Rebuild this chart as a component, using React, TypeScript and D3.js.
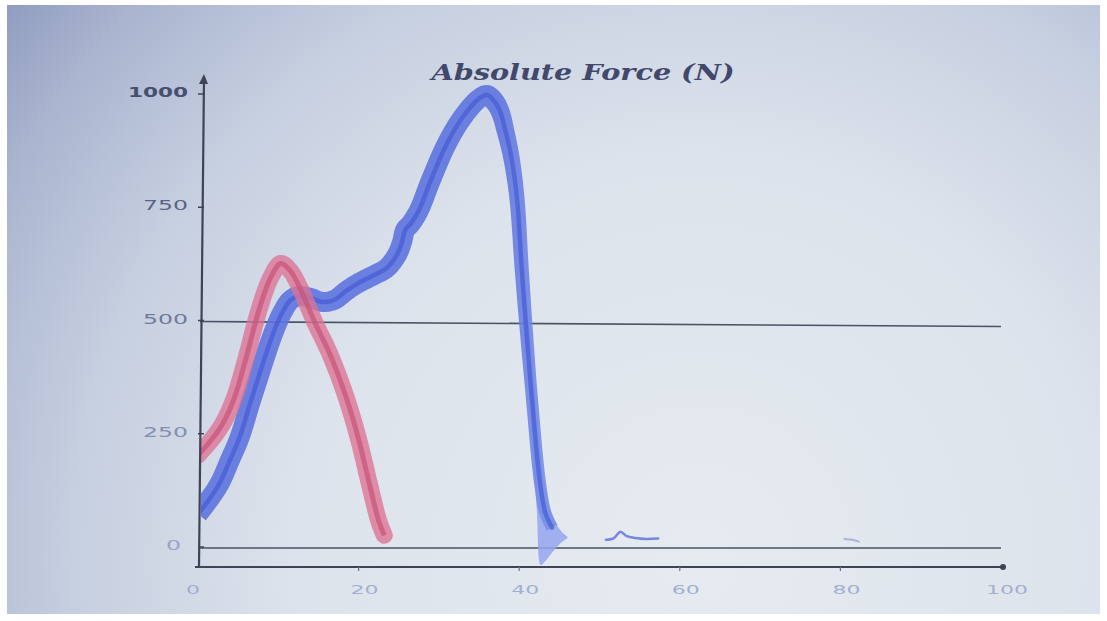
import React, { useEffect, useRef, useState } from "react";
import * as d3 from "d3";

// force curves (time index vs N)
const redX = [0, 1.5, 3, 4.5, 6, 7.5, 9, 10.3, 11.5, 12.8, 14.5, 16.5, 18.5, 20, 21.5, 22.5, 23.2];
const redY = [205, 235, 272, 330, 420, 520, 595, 628, 612, 570, 500, 425, 330, 240, 130, 60, 28];

// blue trial, rise, peak and the steep drop after release
const blueX = [0, 1.5, 2.7, 4, 5.2, 6.5, 7.5, 8.5, 9.5, 10.5, 11.5, 12.5, 14, 15.5, 17, 18.5, 20, 22, 23.5, 24.8,
  25.4, 25.8, 26.5, 27.5, 29, 31, 33, 35, 36, 37, 37.7, 38.3, 38.9, 39.4, 39.8, 40.3, 40.8, 41.6, 42.6, 43.3, 44.1];
const blueY = [75, 110, 143, 195, 245, 320, 375, 430, 480, 520, 547, 556, 552, 543, 548, 568, 585, 603, 618, 648,
  675, 702, 716, 745, 812, 893, 952, 992, 1000, 984, 960, 920, 874, 820, 757, 620, 500, 327, 143, 75, 45];

// widening spread at the end of the blue trial
const tailX = [39.8, 40.8, 41.6, 42.2, 42.7, 43.2, 44, 45, 46];
const tailHi = [800, 580, 420, 285, 200, 140, 80, 42, 25];
const tailLo = [720, 440, 250, 80, -38, -30, -12, 8, 22];

// small noise bumps after release
const blip1X = [50.8, 51.8, 52.6, 53.4, 54.5, 55.8, 57.3];
const blip1Y = [18, 22, 36, 26, 22, 20, 21];
const blip2X = [80.5, 81.5, 82.3];
const blip2Y = [20, 18, 14];

const xTicks = [0, 20, 40, 60, 80, 100];
const yTicks = [0, 250, 500, 750, 1000];
const refLines = [0, 500];

const W = 1107, H = 621;

const x = d3.scaleLinear().domain([0, 100]).range([198, 1001]);
const y = d3.scaleLinear().domain([0, 1000]).range([548, 95]);

const mk = (xs: number[], ys: number[], c: any = d3.curveCatmullRom.alpha(0.5)) =>
  d3.line<number>().x(d => x(d)).y((d, i) => y(ys[i])).curve(c)(xs) || "";

// half thickness of the blue band, narrowing along the drop
const halfWidth = (t: number) => (t < 37 ? 10 : t > 41.5 ? 6 : 10 - ((t - 37) / 4.5) * 4);

export default function App() {
  const meanRef = useRef<SVGPathElement>(null);
  const [band, setBand] = useState("");

  const redPath = mk(redX, redY);
  const bluePath = mk(blueX, blueY);
  const tailPath = d3.area<number>().x(d => x(d)).y0((d, i) => y(tailLo[i])).y1((d, i) => y(tailHi[i]))
    .curve(d3.curveCatmullRom.alpha(0.5))(tailX) || "";
  const blip1 = mk(blip1X, blip1Y, d3.curveCatmullRom);
  const blip2 = mk(blip2X, blip2Y, d3.curveCatmullRom);

  useEffect(() => {
    const p = meanRef.current;
    if (!p) return;
    const L = p.getTotalLength();
    const pts = d3.range(0, L, 1).concat([L]).map(l => p.getPointAtLength(l));
    const left: [number, number][] = [];
    const right: [number, number][] = [];
    pts.forEach((pt, i) => {
      const a = pts[Math.max(0, i - 2)], b = pts[Math.min(pts.length - 1, i + 2)];
      const dx = b.x - a.x, dy = b.y - a.y;
      const n = Math.hypot(dx, dy) || 1;
      const nx = -dy / n, ny = dx / n;
      const w = halfWidth(x.invert(pt.x));
      left.push([pt.x + nx * w, pt.y + ny * w]);
      right.push([pt.x - nx * w, pt.y - ny * w]);
    });
    setBand((d3.line()([...left, ...right.reverse()]) || "") + "Z");
  }, []);

  const yLabelColor = d3.scaleLinear<string>().domain([1000, 0]).range(["#474f6e", "#98a4c4"]);
  const x0 = x(0) + 2;

  return (
    <svg width={W} height={H} style={{ position: "fixed", left: 0, top: 0 }}>
      <defs>
        <radialGradient id="bg" cx="700" cy="560" r="900" gradientUnits="userSpaceOnUse">
          <stop offset="0" stopColor="#e6ebf0" />
          <stop offset="0.45" stopColor="#dde3ec" />
          <stop offset="0.7" stopColor="#c6cfe0" />
          <stop offset="0.88" stopColor="#a9b4cf" />
          <stop offset="1" stopColor="#8e9abd" />
        </radialGradient>
        <linearGradient id="blueBand" x1="500" x2="545" y1="0" y2="0" gradientUnits="userSpaceOnUse">
          <stop offset="0" stopColor="#5e74df" />
          <stop offset="1" stopColor="#7a90e6" />
        </linearGradient>
        <clipPath id="plot">
          <rect x={201} y={60} width={820} height={520} />
        </clipPath>
      </defs>
      <rect width={W} height={H} fill="#ffffff" />
      <rect x={7} y={5} width={W - 14} height={H - 12} fill="url(#bg)" />

      {/* title */}
      <text x={583} y={80} textAnchor="middle" fontFamily="'DejaVu Serif', serif" fontWeight="bold"
        fontStyle="italic" fontSize={22} fill="#41486c" textLength={303} lengthAdjust="spacingAndGlyphs">
        Absolute Force (N)
      </text>

      {/* reference lines */}
      {refLines.map(v => (
        <line key={v} x1={x0} x2={x(100)} y1={y(v)} y2={y(v) + (v === 500 ? 5 : 0)}
          stroke="#4a5266" strokeWidth={1.6} />
      ))}

      <g clipPath="url(#plot)">
        {/* blue trial */}
        <path d={tailPath} fill="#93a5ee" opacity={0.85} />
        <path d={band} fill="url(#blueBand)" opacity={0.9} />
        <path ref={meanRef} d={bluePath} fill="none" stroke="#4258d4" strokeWidth={4.5} strokeLinecap="round"
          strokeLinejoin="round" opacity={0.65} />
        <path d={blip1} fill="none" stroke="#7688de" strokeWidth={2.5} strokeLinecap="round" />
        <path d={blip2} fill="none" stroke="#aab3d8" strokeWidth={2} strokeLinecap="round" />

        {/* red trial */}
        <path d={redPath} fill="none" stroke="#dc7294" strokeWidth={17} strokeLinecap="round" strokeLinejoin="round" opacity={0.78} />
        <path d={redPath} fill="none" stroke="#c9557a" strokeWidth={5} strokeLinecap="butt" strokeLinejoin="round" opacity={0.75} />
      </g>

      {/* axes */}
      <line x1={199} x2={204} y1={567} y2={78} stroke="#3e4456" strokeWidth={2.2} />
      <path d="M199,84 L204,74 L208,84 Z" fill="#3e4456" />
      <line x1={195} x2={x(100) + 2} y1={567} y2={567} stroke="#3e4456" strokeWidth={2.2} />
      <circle cx={x(100) + 2} cy={567} r={3} fill="#3e4456" />

      {yTicks.map(v => (
        <g key={v}>
          <line x1={198} x2={204} y1={y(v) - 1} y2={y(v) - 1} stroke="#3e4456" strokeWidth={1.5} />
          <text x={v === 0 ? 181 : 188} y={y(v) - 2} textAnchor="end" dominantBaseline="middle" fontFamily="'DejaVu Sans', sans-serif"
            fontWeight={v === 1000 ? "bold" : "normal"} fontSize={14} fill={yLabelColor(v)}
            textLength={String(v).length * 15} lengthAdjust="spacingAndGlyphs">
            {v}
          </text>
        </g>
      ))}

      {xTicks.map(v => (
        <g key={v}>
          {v > 0 && v < 100 && <line x1={x(v)} x2={x(v)} y1={567} y2={571} stroke="#6a7290" strokeWidth={1.2} />}
          <text x={x(v) + (v === 0 ? -5 : 6)} y={594} textAnchor="middle" fontFamily="'DejaVu Sans', sans-serif" fontSize={13}
            fill="#a2afd2" textLength={String(v).length * 14} lengthAdjust="spacingAndGlyphs">
            {v}
          </text>
        </g>
      ))}
    </svg>
  );
}
